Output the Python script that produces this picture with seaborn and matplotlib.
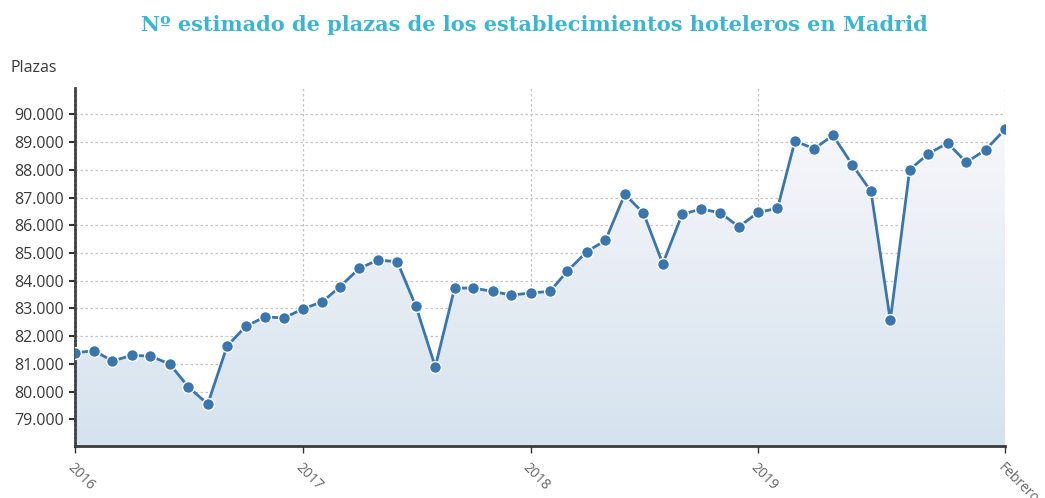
import numpy as np
import pandas as pd
import matplotlib
matplotlib.use('Agg')
import matplotlib.pyplot as plt
import matplotlib.dates as mdates
from matplotlib.colors import LinearSegmentedColormap
import seaborn as sns

# Monthly estimate, Jan 2016 - Feb 2020
months = pd.date_range('2016-01-01', '2020-02-01', freq='MS')
plazas = [
    81403, 81475, 81104, 81309, 81284, 80995, 80166, 79553, 81644, 82355, 82701, 82654,
    82990, 83242, 83783, 84446, 84746, 84685, 83076, 80898, 83736, 83736, 83617, 83483,
    83556, 83617, 84349, 85045, 85456, 87115, 86441, 84612, 86393, 86585, 86452, 85947,
    86466, 86610, 89037, 88760, 89243, 88182, 87223, 82571, 88002, 88579, 88965, 88269,
    88723, 89459,
]
tick_dates = pd.to_datetime(['2016-01-01', '2017-01-01', '2018-01-01', '2019-01-01', '2020-02-01'])
tick_labels = ['2016', '2017', '2018', '2019', 'Febrero']
y_ticks = list(range(79000, 91000, 1000))

df = pd.DataFrame({'mes': months, 'plazas': plazas})

LINE = '#3a76ae'
TITLE = '#3ab6d0'
TEXT = '#3a3a3a'

sns.set_style('white')
plt.rcParams['font.family'] = ['Open Sans', 'DejaVu Sans']

fig = plt.figure(figsize=(10.45, 4.98), dpi=100)
ax = fig.add_axes([75 / 1045, 1 - 446 / 498, 930 / 1045, 358 / 498])

ylo, yhi = 78040, 90950
ax.set_xlim(months[0], months[-1])
ax.set_ylim(ylo, yhi)

# gradient fill under the line
poly = ax.fill_between(df['mes'], df['plazas'], ylo, color='none', lw=0)
cmap = LinearSegmentedColormap.from_list('g', ['#d5e3ee', '#e6ecf4', '#f7f7fb'])
grad = np.linspace(0, 1, 256).reshape(-1, 1)
x0, x1 = mdates.date2num(months[0]), mdates.date2num(months[-1])
img = ax.imshow(grad, cmap=cmap, aspect='auto', origin='lower',
                extent=[x0, x1, ylo, 89500], zorder=1)
img.set_clip_path(poly.get_paths()[0], transform=ax.transData)

sns.lineplot(data=df, x='mes', y='plazas', ax=ax, color=LINE, lw=2,
             marker='o', markersize=8.5, markeredgecolor='white',
             markeredgewidth=1, zorder=4)

ax.set_yticks(y_ticks)
ax.set_yticklabels([f'{v:,}'.replace(',', '.') for v in y_ticks])
ax.set_xticks(tick_dates)
ax.set_xticklabels(tick_labels, rotation=-45, ha='left', va='top',
                   rotation_mode='anchor')

ax.grid(True, color='#c4c4c4', ls=(0, (2, 2)), lw=0.9, zorder=0)
ax.set_axisbelow(True)
ax.tick_params(axis='y', length=4, width=1.5, color='#333333', labelsize=11.5,
               labelcolor=TEXT, pad=4, left=True)
ax.tick_params(axis='x', length=5, width=1, color='#333333', labelsize=10,
               labelcolor='#666666', pad=5, bottom=True)

ax.set_xlabel('')
ax.set_ylabel('')
for s in ['top', 'right']:
    ax.spines[s].set_visible(False)
ax.spines['left'].set_color('#444444')
ax.spines['left'].set_linewidth(2)
ax.spines['left'].set_linestyle((0, (1, 0.6)))
ax.spines['bottom'].set_color('#3a3a3a')
ax.spines['bottom'].set_linewidth(2)

fig.text(10 / 1045, 1 - 68 / 498, 'Plazas', fontsize=11.5, color=TEXT,
         ha='left', va='center')
fig.text(534 / 1045, 1 - 25 / 498,
         'Nº estimado de plazas de los establecimientos hoteleros en Madrid',
         fontsize=15, color=TITLE, ha='center', va='center',
         family='DejaVu Serif', fontweight='bold')

fig.savefig('out.png', dpi=100)
